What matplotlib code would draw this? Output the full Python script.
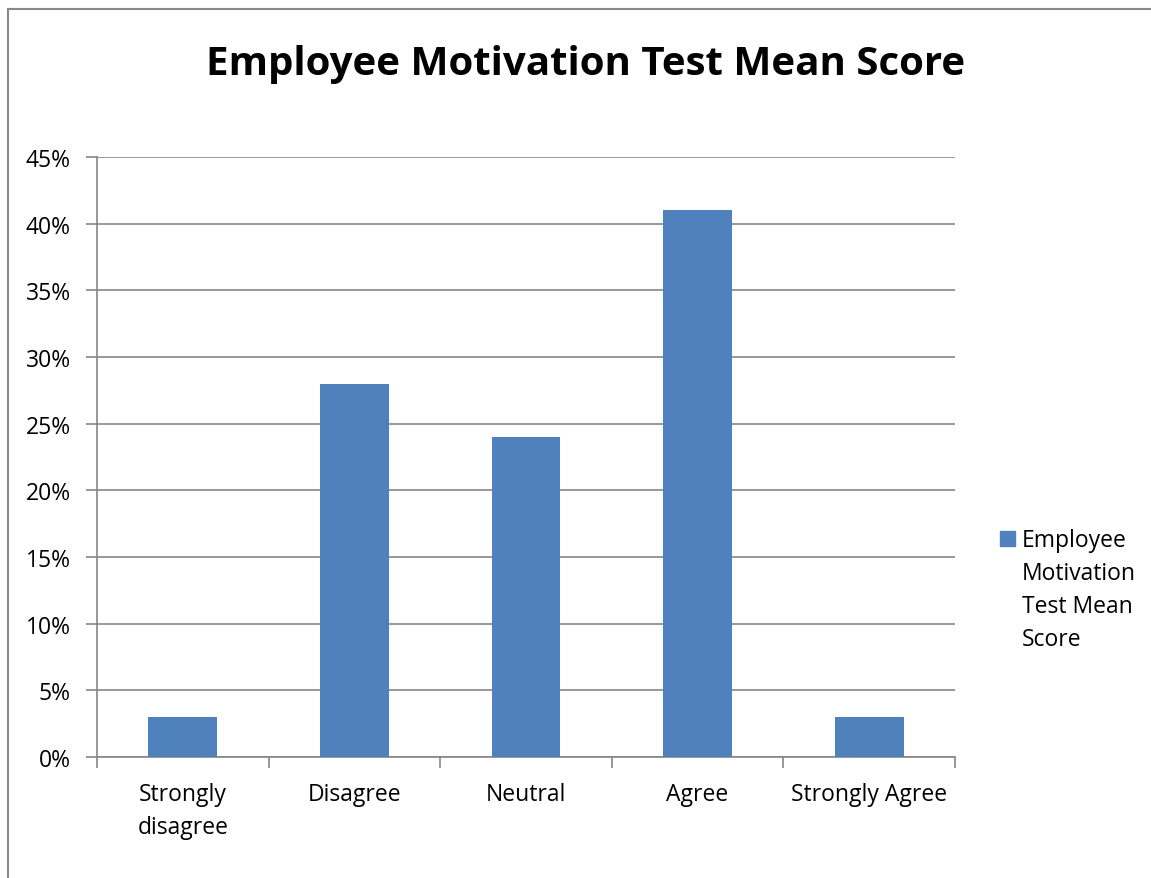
import matplotlib.pyplot as plt
from matplotlib.lines import Line2D
from matplotlib.ticker import FuncFormatter, MultipleLocator

categories = ["Strongly\ndisagree", "Disagree", "Neutral", "Agree", "Strongly Agree"]
scores = [0.03, 0.28, 0.24, 0.41, 0.03]
series_name = "Employee\nMotivation\nTest Mean\nScore"
title = "Employee Motivation Test Mean Score"

plt.rcParams['font.family'] = ['Open Sans', 'DejaVu Sans']

bar_color = '#4F81BD'
grid_color = '#868686'

fig = plt.figure(figsize=(11.51, 8.79), dpi=100)
ax = fig.add_axes([97 / 1151, 1 - 758 / 879, (955 - 97) / 1151, 600 / 879])

x = list(range(len(categories)))
ax.bar(x, scores, width=0.40, color=bar_color, zorder=3)

ax.set_xlim(-0.5, len(categories) - 0.5)
ax.set_ylim(0, 0.45)
ax.yaxis.set_major_locator(MultipleLocator(0.05))
ax.yaxis.set_major_formatter(FuncFormatter(lambda v, _: f"{round(v * 100)}%"))
ax.grid(axis='y', color=grid_color, linewidth=1.2, zorder=0)

ax.set_xticks(x)
ax.set_xticklabels(categories, fontsize=16.5, linespacing=1.5)
ax.set_xticks([i - 0.5 for i in range(len(categories) + 1)], minor=True)
ax.tick_params(axis='x', which='major', length=0, pad=18)
ax.tick_params(axis='x', which='minor', length=8, color=grid_color, width=1.2)
ax.tick_params(axis='y', length=8, color=grid_color, width=1.2, labelsize=16.5, pad=11)

for side in ['top', 'right']:
    ax.spines[side].set_visible(False)
for side in ['left', 'bottom']:
    ax.spines[side].set_color(grid_color)
    ax.spines[side].set_linewidth(1.2)

# chart title
fig.text(586 / 1151, 1 - 64 / 879, title, ha='center', va='center',
         fontsize=29, fontweight='bold')

# legend drawn by hand so the wrapped text sits like Excel's
fig.patches.append(plt.Rectangle((1000 / 1151, 1 - 547 / 879), 15 / 1151, 15 / 879,
                                 transform=fig.transFigure, color=bar_color))
fig.text(1022 / 1151, 1 - 529 / 879, series_name, ha='left', va='top',
         fontsize=16.5, linespacing=1.5)

# chart border (cropped on right and bottom)
fig.add_artist(Line2D([8 / 1151, 8 / 1151], [0, 1 - 10 / 879],
                      transform=fig.transFigure, color='#898989', linewidth=1.5))
fig.add_artist(Line2D([8 / 1151, 1], [1 - 10 / 879, 1 - 10 / 879],
                      transform=fig.transFigure, color='#898989', linewidth=1.5))

fig.savefig("out.png", dpi=100)
